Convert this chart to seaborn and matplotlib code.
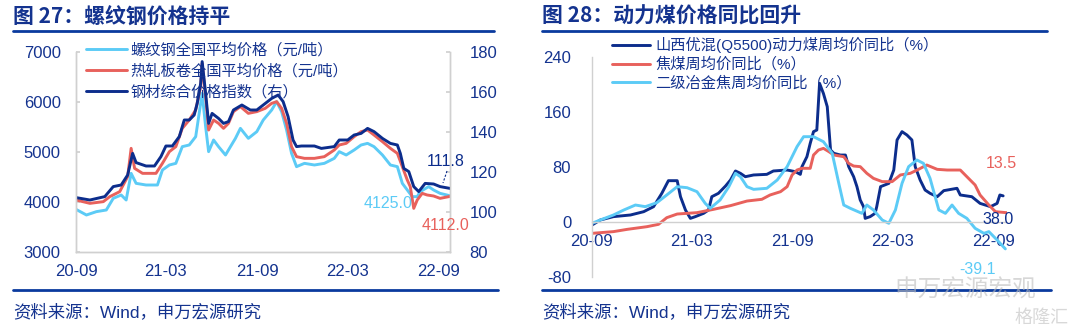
import matplotlib
matplotlib.use('Agg')
import matplotlib.pyplot as plt
import matplotlib.dates as mdates
from matplotlib.lines import Line2D
import seaborn as sns
import pandas as pd

# ---------------- data: left chart (steel) ----------------
idx_dates = ['2020-09-01','2020-09-29','2020-10-29','2020-11-15','2020-12-01','2020-12-14','2020-12-24','2020-12-31',
             '2021-01-20','2021-02-06','2021-02-19','2021-03-01','2021-03-14','2021-03-28','2021-04-07','2021-04-17',
             '2021-04-27','2021-05-03','2021-05-10','2021-05-13','2021-05-20','2021-05-26','2021-06-02','2021-06-15',
             '2021-06-25','2021-07-05','2021-07-15','2021-08-01','2021-08-18','2021-08-31','2021-09-13','2021-09-30',
             '2021-10-13','2021-10-23','2021-11-02','2021-11-12','2021-11-19','2021-11-29','2021-12-25','2022-01-08',
             '2022-02-03','2022-02-13','2022-03-02','2022-03-15','2022-03-29','2022-04-11','2022-04-24','2022-05-11',
             '2022-05-27','2022-06-10','2022-06-16','2022-06-23','2022-07-03','2022-07-13','2022-07-23','2022-08-05',
             '2022-08-22','2022-09-04','2022-09-24']
idx_vals = [107.2,106,107.7,112.7,113.5,118.5,129.3,124.7,123,123,127.7,133,133,137.7,146,146,148.5,154.3,164.3,175.2,
            159.3,144.3,149.3,146.8,144.3,145.2,151,153.5,151,151,153.5,156.8,158.5,155.2,147.7,136,132.7,133,133,131.8,
            132.7,136,136,138.5,139.3,141.8,140.2,136.8,134.3,133.5,129.3,121.8,120.2,112.7,110.2,114.3,114,112.7,111.8]

hrc_dates = ['2020-09-01','2020-09-29','2020-10-26','2020-11-08','2020-11-28','2020-12-14','2020-12-21','2020-12-28',
             '2021-01-13','2021-02-09','2021-02-22','2021-03-08','2021-03-21','2021-04-03','2021-04-17','2021-04-30',
             '2021-05-10','2021-05-13','2021-05-20','2021-05-26','2021-06-05','2021-06-15','2021-06-25','2021-07-05',
             '2021-07-15','2021-07-29','2021-08-14','2021-08-31','2021-09-17','2021-09-30','2021-10-10','2021-10-20',
             '2021-10-30','2021-11-09','2021-11-19','2021-12-05','2021-12-25','2022-01-14','2022-02-03','2022-02-13',
             '2022-02-27','2022-03-15','2022-03-29','2022-04-11','2022-04-24','2022-05-11','2022-05-27','2022-06-10',
             '2022-06-20','2022-06-30','2022-07-06','2022-07-13','2022-07-20','2022-07-30','2022-08-09','2022-08-22',
             '2022-09-04','2022-09-24']
hrc_vals = [4040,3973,4007,4107,4207,4507,5073,4673,4573,4573,4773,5007,5107,5473,5640,5840,6307,6773,6107,5440,
            5640,5573,5473,5573,5807,5907,5773,5807,5873,5973,6007,5873,5573,5107,4907,4873,4873,4907,5040,5140,
            5173,5307,5407,5440,5340,5207,5073,4973,4707,4440,4307,3873,4040,4173,4140,4120,4073,4112]

rebar_dates = ['2020-09-01','2020-09-22','2020-10-12','2020-11-01','2020-11-15','2020-12-01','2020-12-11','2020-12-21',
               '2020-12-31','2021-01-20','2021-02-12','2021-02-22','2021-03-08','2021-03-21','2021-04-03','2021-04-17',
               '2021-04-30','2021-05-10','2021-05-13','2021-05-20','2021-05-26','2021-06-05','2021-06-15','2021-06-29',
               '2021-07-09','2021-07-19','2021-07-29','2021-08-14','2021-08-31','2021-09-13','2021-09-30','2021-10-10',
               '2021-10-20','2021-10-30','2021-11-09','2021-11-19','2021-12-05','2021-12-25','2022-01-14','2022-02-03',
               '2022-02-13','2022-02-27','2022-03-15','2022-03-29','2022-04-11','2022-04-24','2022-05-11','2022-05-27',
               '2022-06-10','2022-06-20','2022-06-30','2022-07-10','2022-07-20','2022-07-26','2022-08-12','2022-08-22',
               '2022-09-04','2022-09-24']
rebar_vals = [3853,3740,3807,3840,4073,4140,4040,4573,4373,4340,4340,4640,4740,4773,5107,5140,5307,5973,6173,5507,
              5007,5240,5107,4940,5107,5273,5473,5273,5407,5640,5840,6007,5807,5440,4973,4707,4773,4740,4773,4873,
              5007,4940,5040,5140,5173,5107,4940,4740,4707,4373,4240,4107,4107,4207,4307,4240,4173,4125]

# ---------------- data: right chart (coal, YoY %) ----------------
coal_dates = ['2020-09-01','2020-09-16','2020-10-10','2020-11-10','2020-12-04','2020-12-22','2021-01-06','2021-01-18',
              '2021-02-03','2021-02-09','2021-02-18','2021-02-27','2021-03-08','2021-03-23','2021-04-01','2021-04-07',
              '2021-04-19','2021-05-02','2021-05-11','2021-05-20','2021-05-29','2021-06-07','2021-06-22','2021-07-16',
              '2021-07-28','2021-08-22','2021-09-06','2021-09-15','2021-09-18','2021-09-27','2021-10-03','2021-10-09',
              '2021-10-15','2021-10-20','2021-10-27','2021-11-03','2021-11-09','2021-11-15','2021-11-27','2021-12-06',
              '2021-12-12','2021-12-21','2021-12-27','2022-01-02','2022-01-08','2022-01-11','2022-01-20','2022-01-29',
              '2022-02-01','2022-02-08','2022-02-23','2022-03-04','2022-03-10','2022-03-19','2022-03-28','2022-04-06',
              '2022-04-12','2022-04-21','2022-04-30','2022-05-09','2022-05-22','2022-06-03','2022-06-27','2022-07-03',
              '2022-07-24','2022-08-08','2022-08-27','2022-09-08','2022-09-13','2022-09-19']
coal_vals = [-4.4,2.9,7.8,10.2,15,22.3,41.7,60.1,60.1,36.8,17.5,5.3,7.8,12.6,17.5,36.8,41.7,52.4,61.1,74.2,
             70.8,65.9,68.4,69.3,74.2,75.6,73.2,69.3,80.5,95,114.4,131.4,133.8,201.7,187,167.7,104.7,99.9,97.4,97.4,
             80.5,65.9,51.4,32,22.3,5.3,7.8,12.6,22.3,51.4,56.2,75.6,119.3,131.4,126.5,119.3,80.5,61.1,46.5,41.7,
             36.8,45.6,49,39.3,36.8,27.1,22.3,27.1,39.3,38.0]

cokc_dates = ['2020-09-01','2020-10-10','2020-11-04','2020-12-10','2020-12-31','2021-01-15','2021-02-03','2021-03-11',
              '2021-04-10','2021-05-11','2021-06-10','2021-07-07','2021-07-22','2021-08-10','2021-08-22','2021-08-31',
              '2021-09-09','2021-09-18','2021-10-03','2021-10-09','2021-10-18','2021-10-27','2021-11-06','2021-11-15',
              '2021-12-03','2021-12-12','2021-12-21','2022-01-02','2022-01-14','2022-01-26','2022-02-11','2022-03-01',
              '2022-03-16','2022-04-03','2022-04-18','2022-05-03','2022-05-22','2022-06-09','2022-07-03','2022-07-15',
              '2022-07-30','2022-08-08','2022-08-24','2022-09-05','2022-09-26']
cokc_vals = [-16.5,-14,-10.7,-6.8,-3.4,6.3,11.6,13.6,18.4,23.8,30.5,33,39.3,44.1,51.4,68.4,75.6,78.1,78.1,97.4,
             104.7,107.1,102.3,97.4,95,85.3,81.4,80.5,70.8,63.5,58.7,58.7,68.4,70.8,76.6,82.9,76.6,75.6,75.6,65.9,
             53.8,39.3,24.7,15,13.5]

coke_dates = ['2020-09-01','2020-09-16','2020-10-10','2020-10-29','2020-11-19','2020-12-07','2020-12-28','2021-01-15',
              '2021-02-03','2021-02-21','2021-03-11','2021-03-26','2021-04-04','2021-04-22','2021-05-08','2021-05-20',
              '2021-05-29','2021-06-10','2021-06-22','2021-07-16','2021-08-04','2021-08-22','2021-09-09','2021-09-21',
              '2021-10-09','2021-10-27','2021-11-12','2021-11-24','2021-12-03','2021-12-15','2022-01-05','2022-01-14',
              '2022-01-26','2022-02-11','2022-02-23','2022-03-07','2022-03-19','2022-03-31','2022-04-15','2022-04-27',
              '2022-05-09','2022-05-25','2022-06-06','2022-06-18','2022-06-30','2022-07-15','2022-07-30','2022-08-15',
              '2022-08-24','2022-09-08','2022-09-23']
coke_vals = [-1.9,2.9,10.2,17.5,24.7,22.3,28.1,39.3,51.4,49.9,44.1,27.1,19.9,32,51.4,70.8,65.9,51.4,47.5,49,
             61.1,80.5,109.6,124.1,124.1,116.8,99.9,56.2,24.7,19.9,12.6,24.7,17.5,2.9,-1.9,17.5,56.2,80.5,90.2,85.3,
             63.5,17.5,12.6,24.7,12.6,5.3,-9.2,-16.5,-14,-26.2,-39.1]

left_labels = ['螺纹钢全国平均价格（元/吨）', '热轧板卷全国平均价格（元/吨）', '钢材综合价格指数（右）']
right_labels = ['山西优混(Q5500)动力煤周均价同比（%）', '焦煤周均价同比（%）', '二级冶金焦周均价同比（%）']
titles = ['图 27：螺纹钢价格持平', '图 28：动力煤价格同比回升']
source = '资料来源：Wind，申万宏源研究'

# ---------------- style ----------------
sns.set_theme(style='white')
plt.rcParams['font.family'] = ['Liberation Sans', 'Noto Sans CJK SC', 'DejaVu Sans']
plt.rcParams['axes.unicode_minus'] = False

NAVY = '#0C2D8C'
RED = '#E8615C'
CYAN = '#5CCBF6'
TEXT = '#14338F'
RULE = '#0A3A9E'
SPINE = '#D0D0D0'
LW = 2.1
W, H = 1080, 333

fig = plt.figure(figsize=(10.8, 3.33), dpi=100)
fig.patch.set_facecolor('white')


def fx(px):
    return px / W


def fy(py):
    return 1 - py / H


def style_dates(ax):
    ax.xaxis.set_major_locator(mdates.MonthLocator(bymonth=[3, 9]))
    ax.xaxis.set_minor_locator(mdates.MonthLocator())
    ax.xaxis.set_major_formatter(mdates.DateFormatter('%y-%m'))
    ax.tick_params(axis='x', which='major', direction='in', length=4, width=0.8, color=SPINE,
                   labelsize=12, labelcolor=TEXT, pad=9)
    ax.tick_params(axis='x', which='minor', direction='in', length=3, width=0.8, color=SPINE)
    ax.set_xlabel('')
    ax.set_ylabel('')


# ---------------- left panel ----------------
axL = fig.add_axes([fx(76), fy(252), fx(374), 200 / H])
axR = axL.twinx()
dfr = pd.DataFrame({'d': pd.to_datetime(rebar_dates), 'v': rebar_vals})
dfh = pd.DataFrame({'d': pd.to_datetime(hrc_dates), 'v': hrc_vals})
dfi = pd.DataFrame({'d': pd.to_datetime(idx_dates), 'v': idx_vals})
sns.lineplot(data=dfr, x='d', y='v', ax=axL, color=CYAN, lw=LW)
sns.lineplot(data=dfh, x='d', y='v', ax=axL, color=RED, lw=LW)
sns.lineplot(data=dfi, x='d', y='v', ax=axR, color=NAVY, lw=LW)
axL.set_ylim(3000, 7000)
axR.set_ylim(80, 180)
axL.set_yticks([3000, 4000, 5000, 6000, 7000])
axR.set_yticks([80, 100, 120, 140, 160, 180])
xl = (pd.Timestamp('2020-09-01'), pd.Timestamp('2022-09-24'))
axL.set_xlim(*xl)
for a in (axL, axR):
    a.set_facecolor('none')
    for s in a.spines.values():
        s.set_color(SPINE)
        s.set_linewidth(1.0)
    a.spines['top'].set_visible(False)
style_dates(axL)
axR.set_ylabel('')
axL.tick_params(axis='y', direction='in', length=3, color=SPINE, labelsize=12, labelcolor=TEXT, pad=11)
axR.tick_params(axis='y', direction='in', length=3, color=SPINE, labelsize=12, labelcolor=TEXT, pad=14)
axL.grid(False)
axR.grid(False)

hL = [Line2D([], [], color=CYAN, lw=LW), Line2D([], [], color=RED, lw=LW), Line2D([], [], color=NAVY, lw=LW)]
fig.legend(hL, left_labels, loc='upper left', bbox_to_anchor=(fx(86), fy(43)), frameon=False, fontsize=11,
           labelcolor=TEXT, handlelength=2.7, handletextpad=0.2, labelspacing=0.42, borderpad=0, borderaxespad=0)

fig.text(fx(446), fy(162), f'{idx_vals[-1]:.1f}', color=NAVY, fontsize=11.5, ha='center', va='center')
fig.add_artist(Line2D([fx(447), fx(443)], [fy(171), fy(183)], color=NAVY, lw=0.8, ls=(0, (2, 1.5))))
fig.text(fx(388), fy(203), f'{rebar_vals[-1]:.1f}', color=CYAN, fontsize=11.5, ha='center', va='center')
fig.text(fx(446), fy(225), f'{hrc_vals[-1]:.1f}', color=RED, fontsize=11.5, ha='center', va='center')

# ---------------- right panel ----------------
ax2 = fig.add_axes([fx(592), fy(277), fx(415), 220 / H])
df1 = pd.DataFrame({'d': pd.to_datetime(coal_dates), 'v': coal_vals})
df2 = pd.DataFrame({'d': pd.to_datetime(cokc_dates), 'v': cokc_vals})
df3 = pd.DataFrame({'d': pd.to_datetime(coke_dates), 'v': coke_vals})
sns.lineplot(data=df1, x='d', y='v', ax=ax2, color=NAVY, lw=LW)
sns.lineplot(data=df2, x='d', y='v', ax=ax2, color=RED, lw=LW)
sns.lineplot(data=df3, x='d', y='v', ax=ax2, color=CYAN, lw=LW)
ax2.set_ylim(-80, 240)
ax2.set_yticks([-80, 0, 80, 160, 240])
ax2.set_xlim(pd.Timestamp('2020-09-01'), pd.Timestamp('2022-09-26'))
ax2.set_facecolor('none')
for k in ('top', 'right'):
    ax2.spines[k].set_visible(False)
for k in ('left', 'bottom'):
    ax2.spines[k].set_color(SPINE)
    ax2.spines[k].set_linewidth(1.0)
ax2.spines['bottom'].set_position(('data', 0))
style_dates(ax2)
ax2.tick_params(axis='y', direction='in', length=3, color=SPINE, labelsize=12, labelcolor=TEXT, pad=15)
ax2.grid(False)

h2 = [Line2D([], [], color=NAVY, lw=LW), Line2D([], [], color=RED, lw=LW), Line2D([], [], color=CYAN, lw=LW)]
fig.legend(h2, right_labels, loc='upper left', bbox_to_anchor=(fx(612), fy(37)), frameon=False, fontsize=11,
           labelcolor=TEXT, handlelength=2.5, handletextpad=0.33, labelspacing=0.27, borderpad=0, borderaxespad=0)

fig.text(fx(1001), fy(164), f'{cokc_vals[-1]:.1f}', color=RED, fontsize=11.5, ha='center', va='center')
fig.text(fx(998), fy(220), f'{coal_vals[-1]:.1f}', color=NAVY, fontsize=11.5, ha='center', va='center')
fig.text(fx(978), fy(269), f'{coke_vals[-1]:.1f}', color=CYAN, fontsize=11.5, ha='center', va='center')

# ---------------- titles, rules, sources ----------------
for x0, x1, t in ((13, 494, titles[0]), (542, 1047, titles[1])):
    fig.text(fx(x0), fy(16), t, fontsize=15, fontweight='bold', color=TEXT, ha='left', va='center',
             family=['Noto Sans CJK SC', 'DejaVu Sans'])
    fig.add_artist(Line2D([fx(x0), fx(x1)], [fy(31), fy(31)], color=RULE, lw=2))
    fig.add_artist(Line2D([fx(x0), fx(x1 + 4)], [fy(290), fy(290)], color=RULE, lw=2))
    fig.text(fx(x0), fy(312), source, fontsize=12.5, color=TEXT, ha='left', va='center')

# watermark
fig.text(fx(965), fy(290), '申万宏源宏观', fontsize=17, color='#BDBDBD', alpha=0.6, ha='center', va='center',
         family=['Noto Sans CJK SC'])
fig.text(fx(1042), fy(318), '格隆汇', fontsize=13, color='#C8C8C8', alpha=0.7, ha='center', va='center',
         family=['Noto Sans CJK SC'])

fig.savefig('out.png', dpi=100, facecolor='white')
